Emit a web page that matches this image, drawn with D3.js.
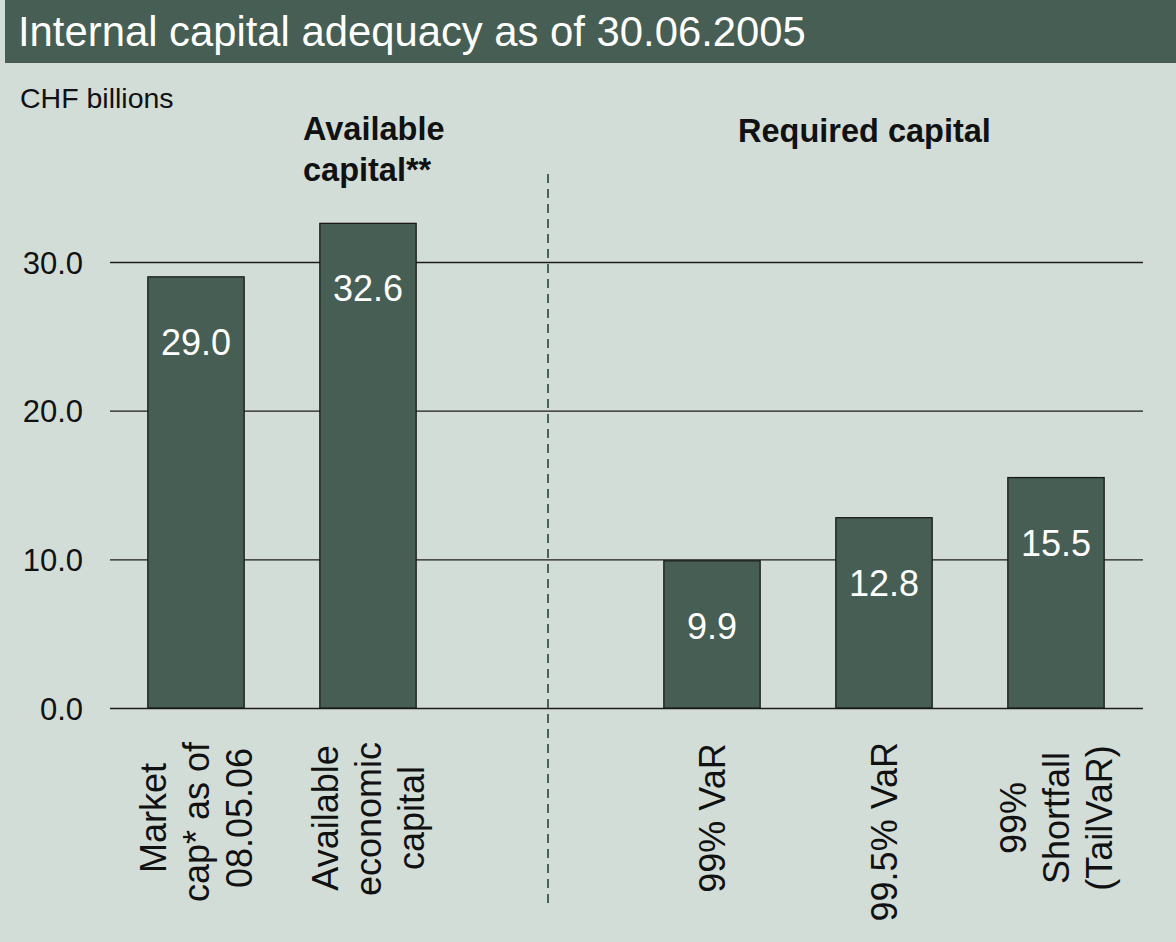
<!DOCTYPE html>
<html>
<head>
<meta charset="utf-8">
<script src="https://cdn.jsdelivr.net/npm/d3@7"></script>
<style>
  html, body { margin: 0; padding: 0; background: #d3ddd8; }
  svg { display: block; }
  text { font-family: "Liberation Sans", Arial, Helvetica, sans-serif; }
</style>
</head>
<body>
<svg id="chart" width="1176" height="942"></svg>
<script>
// Internal capital adequacy, CHF billions
const title = "Internal capital adequacy as of 30.06.2005";
const unitLabel = "CHF billions";
const categories = ["Market cap* as of 08.05.06", "Available economic capital", "99% VaR", "99.5% VaR", "99% Shortfall (TailVaR)"];
const categoryLines = [["Market", "cap* as of", "08.05.06"], ["Available", "economic", "capital"], ["99% VaR"], ["99.5% VaR"], ["99%", "Shortfall", "(TailVaR)"]];
const values = [29.0, 32.6, 9.9, 12.8, 15.5];
const groupOf = [0, 0, 1, 1, 1];
const groupTitles = [["Available", "capital**"], ["Required capital"]];
const yTicks = [0, 10, 20, 30];

const W = 1176, H = 942;
const C = { bg: "#d3ddd8", band: "#465e53", bar: "#465e53", ink: "#111" };

const svg = d3.select("#chart");
svg.append("rect").attr("width", W).attr("height", H).attr("fill", C.bg);

// title band
svg.append("rect").attr("x", 5).attr("y", 0).attr("width", W - 5).attr("height", 63).attr("fill", C.band);
const t = svg.append("text").attr("x", 18).attr("y", 46).attr("fill", "#fff")
  .attr("font-size", 37).text(title);
const tw = t.node().getComputedTextLength();
t.attr("font-size", 37 * 788 / tw);

svg.append("text").attr("x", 20).attr("y", 108).attr("font-size", 28.5).attr("fill", C.ink).text(unitLabel);

// slots: the two groups separated by an empty slot
const slots = [];
categories.forEach((c, i) => {
  if (i > 0 && groupOf[i] !== groupOf[i - 1]) slots.push("__gap");
  slots.push(c);
});

const x = d3.scaleBand().domain(slots).range([110, 1142]).paddingInner(0.44).paddingOuter(0.22);
const y = d3.scaleLinear().domain([0, 30]).range([708, 262]);

// gridlines + tick labels
const axis = d3.axisLeft(y).tickValues(yTicks).tickFormat(d3.format(".1f"))
  .tickSize(-(1143 - 110)).tickPadding(27);
const g = svg.append("g").attr("transform", "translate(110,0)").call(axis);
g.select(".domain").remove();
g.selectAll(".tick line").attr("stroke", "#1c1c1c").attr("stroke-width", 1.3);
g.selectAll(".tick text").attr("font-size", 31).attr("fill", C.ink)
  .attr("font-family", "'Liberation Sans', Arial, sans-serif").attr("dy", "0.36em");

// group divider
const divX = x("__gap") + x.bandwidth() / 2 + 8;
svg.append("line").attr("x1", divX).attr("x2", divX).attr("y1", 174).attr("y2", 904)
  .attr("stroke", "#4a6358").attr("stroke-width", 2).attr("stroke-dasharray", "9,6");

// group headings
svg.append("g").selectAll("text").data(groupTitles[0]).join("text")
  .attr("x", 303).attr("y", (d, i) => 140 + i * 41)
  .attr("font-size", 32.5).attr("font-weight", "bold").attr("fill", C.ink).text(d => d);
svg.append("text").attr("x", 738).attr("y", 142)
  .attr("font-size", 32.5).attr("font-weight", "bold").attr("fill", C.ink).text(groupTitles[1][0]);

// bars
svg.append("g").selectAll("rect").data(values).join("rect")
  .attr("x", (d, i) => x(categories[i]))
  .attr("y", d => y(d))
  .attr("width", x.bandwidth())
  .attr("height", d => y(0) - y(d))
  .attr("fill", C.bar).attr("stroke", "#1a1a1a").attr("stroke-width", 1.3);

// value labels
svg.append("g").selectAll("text").data(values).join("text")
  .attr("x", (d, i) => x(categories[i]) + x.bandwidth() / 2)
  .attr("y", d => y(d) + 78)
  .attr("text-anchor", "middle").attr("font-size", 36).attr("fill", "#fff")
  .text(d => d3.format(".1f")(d));

// rotated category labels
const labelCY = 818, labelTop = 742, lineGap = 43;
categories.forEach((c, i) => {
  const lines = categoryLines[i];
  const cx = x(c) + x.bandwidth() / 2;
  const lg = svg.append("g").attr("transform", `translate(${cx},${labelCY}) rotate(-90)`);
  lines.forEach((ln, j) => {
    const tx = lg.append("text")
      .attr("y", (j - (lines.length - 1) / 2) * lineGap)
      .attr("dy", "0.36em")
      .attr("font-size", 36).attr("fill", C.ink)
      .attr("text-anchor", "middle").text(ln);
    const len = tx.node().getComputedTextLength();
    if (len > 2 * (labelCY - labelTop)) {
      tx.attr("text-anchor", "end").attr("x", labelCY - labelTop);
    }
  });
});
</script>
</body>
</html>
